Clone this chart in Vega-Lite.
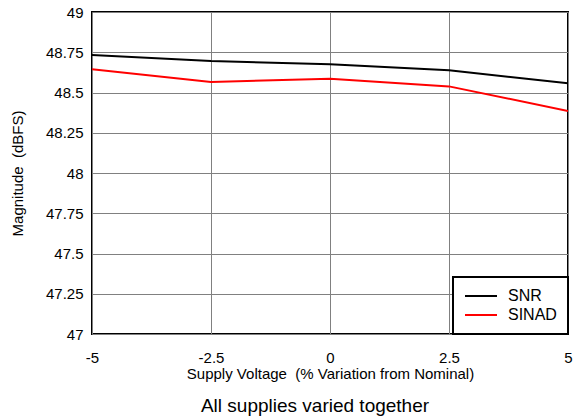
{
  "$schema": "https://vega.github.io/schema/vega-lite/v6.json",
  "width": 476,
  "height": 322,
  "autosize": {"type": "none"},
  "padding": {"left": 92, "top": 12, "right": 5, "bottom": 85},
  "background": "white",
  "config": {
    "font": "Liberation Sans",
    "view": {"stroke": "black", "strokeWidth": 2},
    "axis": {"gridColor": "#808080", "gridWidth": 1, "gridOpacity": 1, "domain": false, "ticks": false, "labelFlush": false, "labelColor": "black", "titleColor": "black", "labelFontSize": 15, "titleFontSize": 15, "titleFontWeight": "normal", "labelFont": "Liberation Sans", "titleFont": "Liberation Sans"}
  },
  "title": {"text": "All supplies varied together", "orient": "bottom", "fontSize": 19, "fontWeight": "normal", "color": "black", "font": "Liberation Sans", "offset": 16, "dx": -15},
  "data": {"values": [
    {"v": -5, "s": "SNR", "m": 48.733},
    {"v": -2.5, "s": "SNR", "m": 48.695},
    {"v": 0, "s": "SNR", "m": 48.675},
    {"v": 2.5, "s": "SNR", "m": 48.638},
    {"v": 5, "s": "SNR", "m": 48.557},
    {"v": -5, "s": "SINAD", "m": 48.644},
    {"v": -2.5, "s": "SINAD", "m": 48.565},
    {"v": 0, "s": "SINAD", "m": 48.585},
    {"v": 2.5, "s": "SINAD", "m": 48.538},
    {"v": 5, "s": "SINAD", "m": 48.385}
  ]},
  "mark": {"type": "line", "strokeWidth": 2, "clip": true},
  "encoding": {
    "x": {"field": "v", "type": "quantitative", "scale": {"domain": [-5, 5], "nice": false, "zero": false},
      "axis": {"values": [-5, -2.5, 0, 2.5, 5], "labelExpr": "'' + datum.value", "labelPadding": 16, "title": "Supply Voltage\u00a0 (% Variation from Nominal)", "titlePadding": 1}},
    "y": {"field": "m", "type": "quantitative", "scale": {"domain": [47, 49], "nice": false, "zero": false},
      "axis": {"values": [47, 47.25, 47.5, 47.75, 48, 48.25, 48.5, 48.75, 49], "labelExpr": "'' + datum.value", "labelPadding": 9, "title": "Magnitude\u00a0 (dBFS)", "titlePadding": 20}},
    "color": {"field": "s", "type": "nominal", "sort": ["SNR", "SINAD"],
      "scale": {"domain": ["SNR", "SINAD"], "range": ["black", "red"]},
      "legend": {"title": null, "orient": "bottom-right", "offset": 0, "fillColor": "white", "strokeColor": "black", "padding": 11, "symbolType": "stroke", "symbolSize": 1024, "symbolStrokeWidth": 2, "clipHeight": 16, "labelFontSize": 16, "labelOffset": 10, "labelColor": "black", "rowPadding": 3,
        "encode": {"legend": {"update": {"strokeWidth": {"value": 2}}}}}}
  }
}
